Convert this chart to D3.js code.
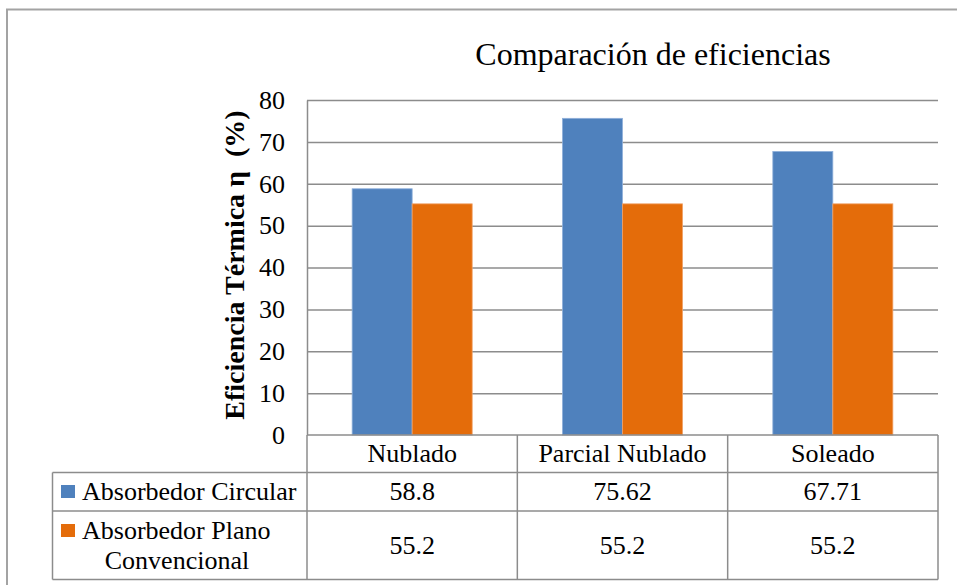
<!DOCTYPE html>
<html lang="es">
<head>
<meta charset="utf-8">
<title>Comparación de eficiencias</title>
<script src="https://cdn.jsdelivr.net/npm/d3@7"></script>
<style>
  html, body { margin: 0; padding: 0; background: #fff; }
  svg { display: block; }
  text { font-family: "Liberation Serif", "Times New Roman", serif; fill: #000; }
</style>
</head>
<body>
<svg id="chart" width="957" height="585"></svg>
<script>
// Data
const categories = ["Nublado", "Parcial Nublado", "Soleado"];
const seriesNames = ["Absorbedor Circular", "Absorbedor Plano Convencional"];
const circularValues = [58.8, 75.62, 67.71];
const planoValues = [55.2, 55.2, 55.2];
const circularLabels = ["58.8", "75.62", "67.71"];
const planoLabels = ["55.2", "55.2", "55.2"];
const yTicks = [0, 10, 20, 30, 40, 50, 60, 70, 80];
const colors = ["#4F81BD", "#E46C0A"];

const series = [circularValues, planoValues];
const seriesLabels = [circularLabels, planoLabels];

const svg = d3.select("#chart");
const W = 957, H = 585;
const serif = "'Liberation Serif', 'Times New Roman', serif";

// Layout
const plot = { left: 307, right: 938, top: 100, bottom: 435 };
const table = { left: 52.5, rows: [435, 472.5, 511, 579.5] };
const gridColor = "#8c8c8c";

// Outer frame (open on the right and bottom edges)
svg.append("rect")
  .attr("x", 7).attr("y", 9.5)
  .attr("width", W + 20).attr("height", H + 20)
  .attr("fill", "none")
  .attr("stroke", "#a3a3a3")
  .attr("stroke-width", 2);

// Scales
const x0 = d3.scaleBand().domain(categories).range([plot.left, plot.right]).padding(0);
const x1 = d3.scaleBand().domain(d3.range(seriesNames.length))
  .range([0, x0.bandwidth()]).paddingInner(0).paddingOuter(0.7525);
const y = d3.scaleLinear().domain([0, 80]).range([plot.bottom, plot.top]);

// Gridlines
const grid = svg.append("g")
  .attr("transform", `translate(${plot.left},0)`)
  .call(d3.axisLeft(y).tickValues(yTicks.filter(t => t > 0))
    .tickSize(-(plot.right - plot.left)).tickFormat(""));
grid.select(".domain").remove();
grid.selectAll(".tick line").attr("stroke", gridColor).attr("stroke-width", 1.5);

// Y axis labels and line
const yAxis = svg.append("g")
  .attr("transform", `translate(${plot.left},0)`)
  .call(d3.axisLeft(y).tickValues(yTicks).tickSize(0).tickPadding(22).tickFormat(d3.format("d")));
yAxis.attr("font-family", null).attr("font-size", null);
yAxis.select(".domain").attr("stroke", gridColor).attr("stroke-width", 1.5);
yAxis.selectAll(".tick text")
  .style("font-family", serif)
  .attr("font-size", 26)
  .attr("fill", "#000");

// Bars
const groups = svg.append("g").selectAll("g")
  .data(categories)
  .join("g")
  .attr("transform", d => `translate(${x0(d)},0)`);

groups.selectAll("rect")
  .data((d, i) => series.map((s, k) => ({ k, v: s[i] })))
  .join("rect")
  .attr("x", d => x1(d.k))
  .attr("y", d => y(d.v))
  .attr("width", x1.bandwidth())
  .attr("height", d => y(0) - y(d.v))
  .attr("fill", d => colors[d.k])
  .attr("stroke", d => d.k === 0 ? "#8fb0da" : "#f0a066")
  .attr("stroke-width", 0.8);

// Title
svg.append("text")
  .attr("x", 653).attr("y", 65)
  .attr("text-anchor", "middle")
  .attr("font-size", 32)
  .text("Comparación de eficiencias");

// Y axis title
svg.append("text")
  .attr("transform", "translate(244,265) rotate(-90)")
  .attr("text-anchor", "middle")
  .attr("font-size", 28)
  .attr("font-weight", "bold")
  .style("white-space", "pre")
  .text("Eficiencia Térmica η  (%)");

// Data table
const tbl = svg.append("g").attr("stroke", gridColor).attr("stroke-width", 1.5).attr("fill", "none");
// horizontal lines
tbl.append("line").attr("x1", plot.left).attr("x2", plot.right).attr("y1", table.rows[0]).attr("y2", table.rows[0]);
[1, 2, 3].forEach(r => {
  tbl.append("line").attr("x1", table.left).attr("x2", plot.right)
    .attr("y1", table.rows[r]).attr("y2", table.rows[r]);
});
// vertical lines
const colEdges = [plot.left, ...categories.map(c => x0(c) + x0.bandwidth())];
colEdges.forEach(xv => {
  tbl.append("line").attr("x1", xv).attr("x2", xv).attr("y1", table.rows[0]).attr("y2", table.rows[3]);
});
tbl.append("line").attr("x1", table.left).attr("x2", table.left).attr("y1", table.rows[1]).attr("y2", table.rows[3]);

// Header (category names)
svg.append("g").selectAll("text")
  .data(categories)
  .join("text")
  .attr("x", d => x0(d) + x0.bandwidth() / 2)
  .attr("y", 461.7)
  .attr("text-anchor", "middle")
  .attr("font-size", 26)
  .text(d => d);

// Values
const rowBaselines = [499.5, 553.5];
seriesLabels.forEach((labels, k) => {
  svg.append("g").selectAll("text")
    .data(labels)
    .join("text")
    .attr("x", (d, i) => x0(categories[i]) + x0.bandwidth() / 2)
    .attr("y", rowBaselines[k])
    .attr("text-anchor", "middle")
    .attr("font-size", 26)
    .text(d => d);
});

// Legend keys in the table
svg.append("rect").attr("x", 61).attr("y", 485).attr("width", 14).attr("height", 13).attr("fill", colors[0]);
svg.append("rect").attr("x", 61).attr("y", 524).attr("width", 14).attr("height", 13).attr("fill", colors[1]);

svg.append("text").attr("x", 82).attr("y", 500).attr("font-size", 26).text(seriesNames[0]);
svg.append("text").attr("x", 82).attr("y", 538.5).attr("font-size", 26).text("Absorbedor Plano");
svg.append("text").attr("x", 177).attr("y", 568.5).attr("text-anchor", "middle").attr("font-size", 26).text("Convencional");
</script>
</body>
</html>
